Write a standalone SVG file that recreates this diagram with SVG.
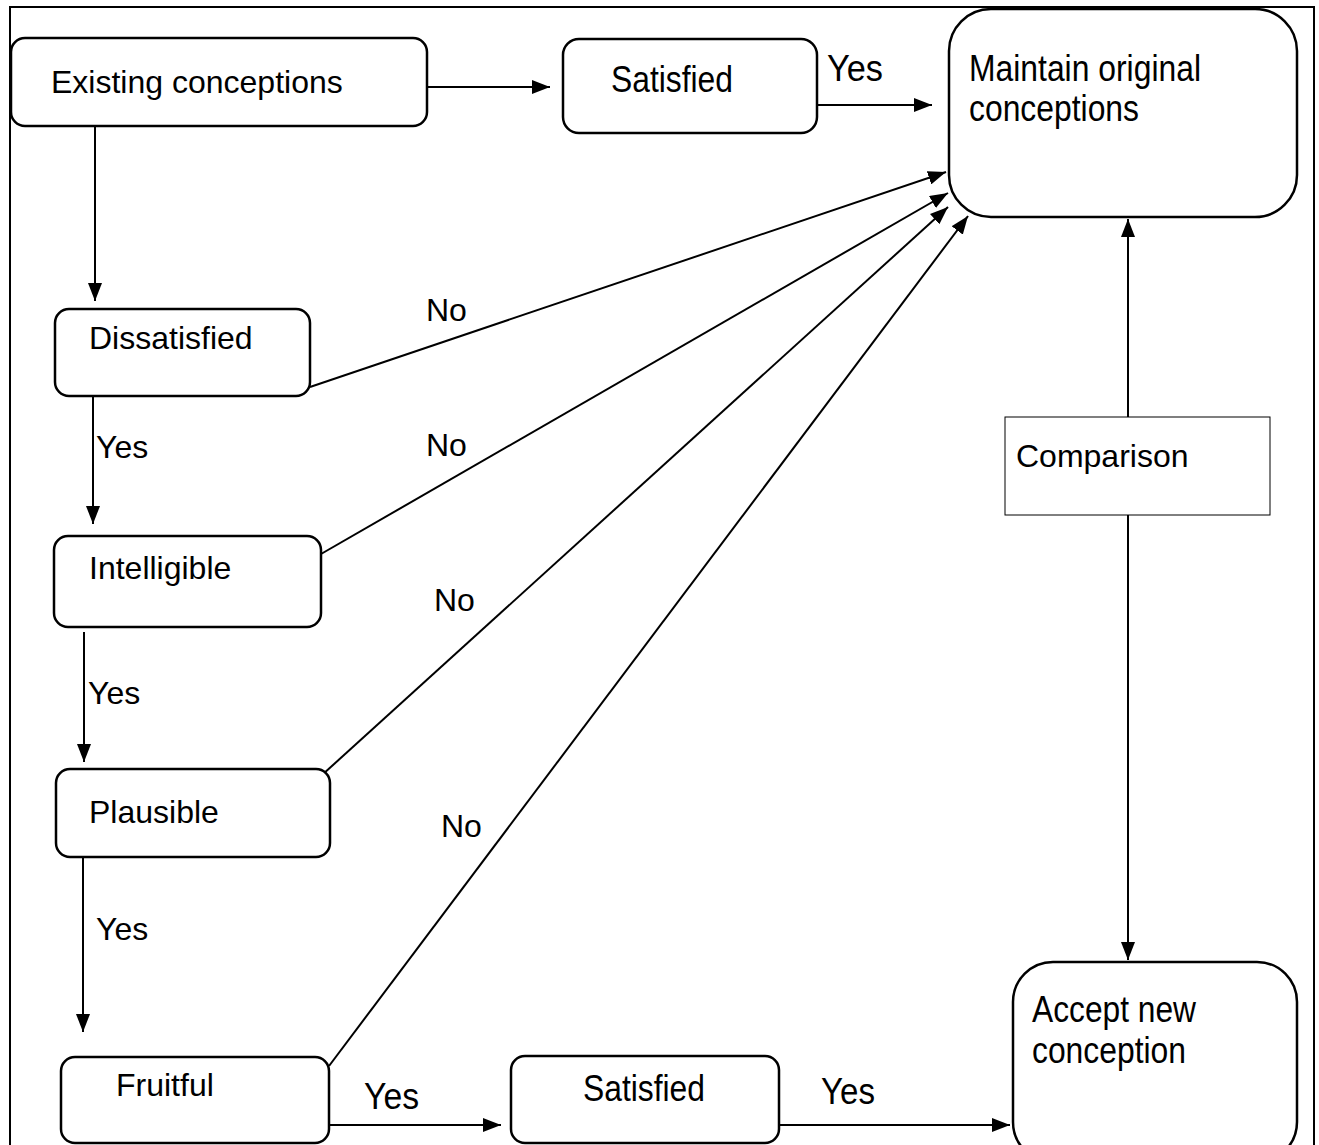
<svg xmlns="http://www.w3.org/2000/svg" width="1319" height="1145" viewBox="0 0 1319 1145">
<defs>
<marker id="ah" viewBox="0 0 18 14" refX="18" refY="7" markerWidth="18" markerHeight="14" markerUnits="userSpaceOnUse" orient="auto">
<path d="M0,0 L18,7 L0,14 Z" fill="#000"/>
</marker>
<style>
.box{fill:#fff;stroke:#000;stroke-width:2.5}
.sq{fill:#fff;stroke:#000;stroke-width:1}
.t{font-family:"Liberation Sans",Arial,sans-serif;font-size:32px;fill:#000}
.n{font-family:"Liberation Sans",Arial,sans-serif;font-size:36px;fill:#000}
.c{fill:none;stroke:#000;stroke-width:2}
</style>
</defs>
<rect x="0" y="0" width="1319" height="1145" fill="#fff"/>
<path d="M10,1145 L10,7 L1314,7 L1314,1145" fill="none" stroke="#000" stroke-width="2"/>
<g id="connectors">
<line class="c" x1="427" y1="87" x2="550" y2="87" marker-end="url(#ah)"/>
<line class="c" x1="817" y1="105" x2="932" y2="105" marker-end="url(#ah)"/>
<line class="c" x1="95" y1="126" x2="95" y2="301" marker-end="url(#ah)"/>
<line class="c" x1="93" y1="396" x2="93" y2="524" marker-end="url(#ah)"/>
<line class="c" x1="84" y1="632" x2="84" y2="762" marker-end="url(#ah)"/>
<line class="c" x1="83" y1="857" x2="83" y2="1032" marker-end="url(#ah)"/>
<line class="c" x1="329" y1="1125" x2="501" y2="1125" marker-end="url(#ah)"/>
<line class="c" x1="779" y1="1125" x2="1010" y2="1125" marker-end="url(#ah)"/>
<line class="c" x1="310" y1="387" x2="946" y2="172" marker-end="url(#ah)"/>
<line class="c" x1="321" y1="554" x2="948" y2="193" marker-end="url(#ah)"/>
<line class="c" x1="322" y1="775" x2="948" y2="207" marker-end="url(#ah)"/>
<line class="c" x1="329" y1="1066" x2="968" y2="216" marker-end="url(#ah)"/>
<line class="c" x1="1128" y1="417" x2="1128" y2="219" marker-end="url(#ah)"/>
<line class="c" x1="1128" y1="515" x2="1128" y2="960" marker-end="url(#ah)"/>
<text class="n" x="827" y="81" textLength="56" lengthAdjust="spacingAndGlyphs">Yes</text>
<text class="t" x="96" y="458">Yes</text>
<text class="t" x="88" y="704">Yes</text>
<text class="t" x="96" y="940">Yes</text>
<text class="n" x="364" y="1109" textLength="55" lengthAdjust="spacingAndGlyphs">Yes</text>
<text class="n" x="821" y="1104" textLength="54" lengthAdjust="spacingAndGlyphs">Yes</text>
<text class="t" x="426" y="321">No</text>
<text class="t" x="426" y="456">No</text>
<text class="t" x="434" y="611">No</text>
<text class="t" x="441" y="837">No</text>
</g>
<g id="existing">
<rect class="box" x="11" y="38" width="416" height="88" rx="14"/>
<text class="t" x="51" y="93">Existing conceptions</text>
</g>
<g id="satisfied-top">
<rect class="box" x="563" y="39" width="254" height="94" rx="16"/>
<text class="n" x="611" y="92" textLength="122" lengthAdjust="spacingAndGlyphs">Satisfied</text>
</g>
<g id="maintain">
<rect class="box" x="949" y="9" width="348" height="208" rx="42"/>
<text class="n" x="969" y="81" textLength="232" lengthAdjust="spacingAndGlyphs">Maintain original</text>
<text class="n" x="969" y="121" textLength="170" lengthAdjust="spacingAndGlyphs">conceptions</text>
</g>
<g id="dissatisfied">
<rect class="box" x="55" y="309" width="255" height="87" rx="14"/>
<text class="t" x="89" y="349">Dissatisfied</text>
</g>
<g id="intelligible">
<rect class="box" x="54" y="536" width="267" height="91" rx="14"/>
<text class="t" x="89" y="579">Intelligible</text>
</g>
<g id="plausible">
<rect class="box" x="56" y="769" width="274" height="88" rx="14"/>
<text class="t" x="89" y="823">Plausible</text>
</g>
<g id="fruitful">
<rect class="box" x="61" y="1057" width="268" height="86" rx="14"/>
<text class="t" x="116" y="1096">Fruitful</text>
</g>
<g id="satisfied-bottom">
<rect class="box" x="511" y="1056" width="268" height="87" rx="14"/>
<text class="n" x="583" y="1101" textLength="122" lengthAdjust="spacingAndGlyphs">Satisfied</text>
</g>
<g id="accept">
<rect class="box" x="1013" y="962" width="284" height="200" rx="40"/>
<text class="n" x="1032" y="1022" textLength="164" lengthAdjust="spacingAndGlyphs">Accept new</text>
<text class="n" x="1032" y="1063" textLength="154" lengthAdjust="spacingAndGlyphs">conception</text>
</g>
<g id="comparison">
<rect class="sq" x="1005" y="417" width="265" height="98"/>
<text class="t" x="1016" y="467">Comparison</text>
</g>
</svg>
